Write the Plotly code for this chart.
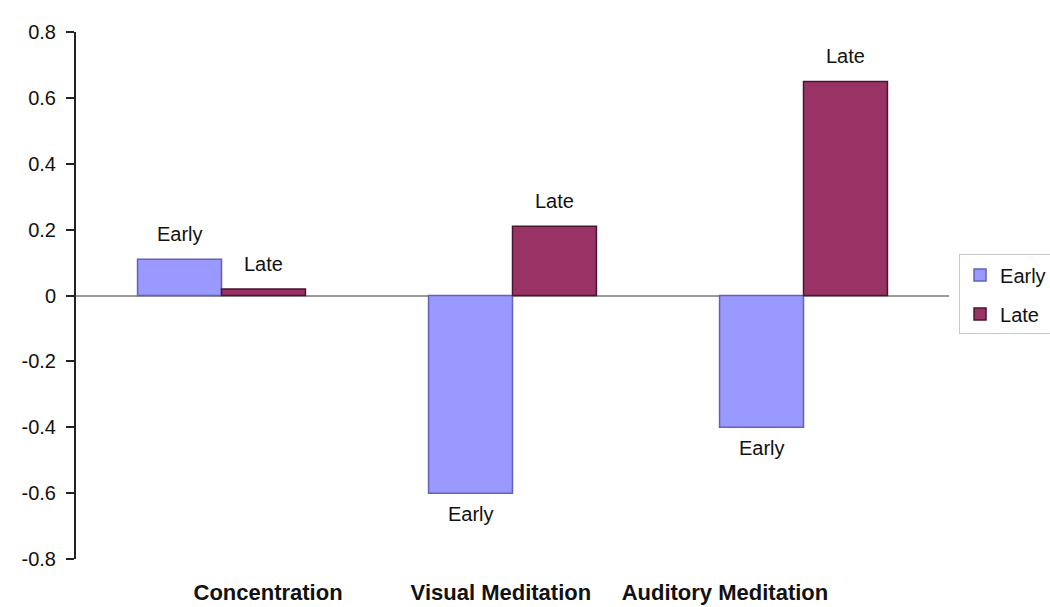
import plotly.graph_objects as go

# Categories and measured effect values
categories = ["Concentration", "Visual Meditation", "Auditory Meditation"]
early_values = [0.11, -0.60, -0.40]
late_values = [0.02, 0.21, 0.65]
series_names = ["Early", "Late"]
y_tick_values = [0.8, 0.6, 0.4, 0.2, 0.0, -0.2, -0.4, -0.6, -0.8]
y_tick_labels = ["0.8", "0.6", "0.4", "0.2", "0", "-0.2", "-0.4", "-0.6", "-0.8"]

FONT = "Liberation Sans, Arial, sans-serif"
fill_colors = ["#9999FF", "#993366"]
edge_colors = ["#6262B8", "#4A1530"]
BARGAP = 0.423

x_idx = list(range(len(categories)))
fig = go.Figure()
for name, vals, fc, ec in zip(series_names, [early_values, late_values], fill_colors, edge_colors):
    fig.add_trace(go.Bar(
        name=name, x=x_idx, y=vals, legendgroup=name,
        marker=dict(color=fc, line=dict(color=ec, width=1.5)),
        hoverinfo="skip",
    ))

# value-side labels naming each bar's series, centred over each bar
half = (1 - BARGAP) / 4
offsets = [-half, half]
for k, (name, vals) in enumerate(zip(series_names, [early_values, late_values])):
    for i, v in enumerate(vals):
        fig.add_annotation(
            x=i + offsets[k], y=v, xref="x", yref="y", text=name,
            showarrow=False, yanchor="middle",
            yshift=25 if v >= 0 else -21,
            font=dict(family=FONT, size=20, color="#111111"),
        )

# category labels sit slightly off-centre under each group
label_shift = [0.16, -0.04, -0.27]
fig.update_xaxes(
    range=[-0.5, 2.5],
    tickmode="array",
    tickvals=[i + s for i, s in zip(x_idx, label_shift)],
    ticktext=categories,
    tickfont=dict(family=FONT, size=22, color="#111111", weight="bold"),
    showline=False, ticks="", showgrid=False, zeroline=False,
    ticklabelstandoff=18, automargin=False,
)
fig.update_yaxes(
    range=[-0.8, 0.8],
    tickmode="array", tickvals=y_tick_values, ticktext=y_tick_labels,
    tickfont=dict(family=FONT, size=20, color="#111111"),
    showline=True, linecolor="#222222", linewidth=2,
    ticks="outside", ticklen=8, tickwidth=2, tickcolor="#222222",
    showgrid=False, automargin=False,
    zeroline=True, zerolinecolor="#9a9a9a", zerolinewidth=2,
    ticklabelstandoff=6,
)

fig.update_layout(
    width=1050, height=607,
    margin=dict(l=76, r=101, t=32, b=48, autoexpand=False),
    paper_bgcolor="white", plot_bgcolor="white",
    barmode="group", bargap=BARGAP, bargroupgap=0,
    legend=dict(
        x=1.0115, y=0.578, xanchor="left", yanchor="top",
        bordercolor="#c8c8c8", borderwidth=1, bgcolor="white",
        font=dict(family=FONT, size=20, color="#111111"),
        tracegroupgap=10, itemwidth=30,
    ),
)

fig.write_html("out.html")
